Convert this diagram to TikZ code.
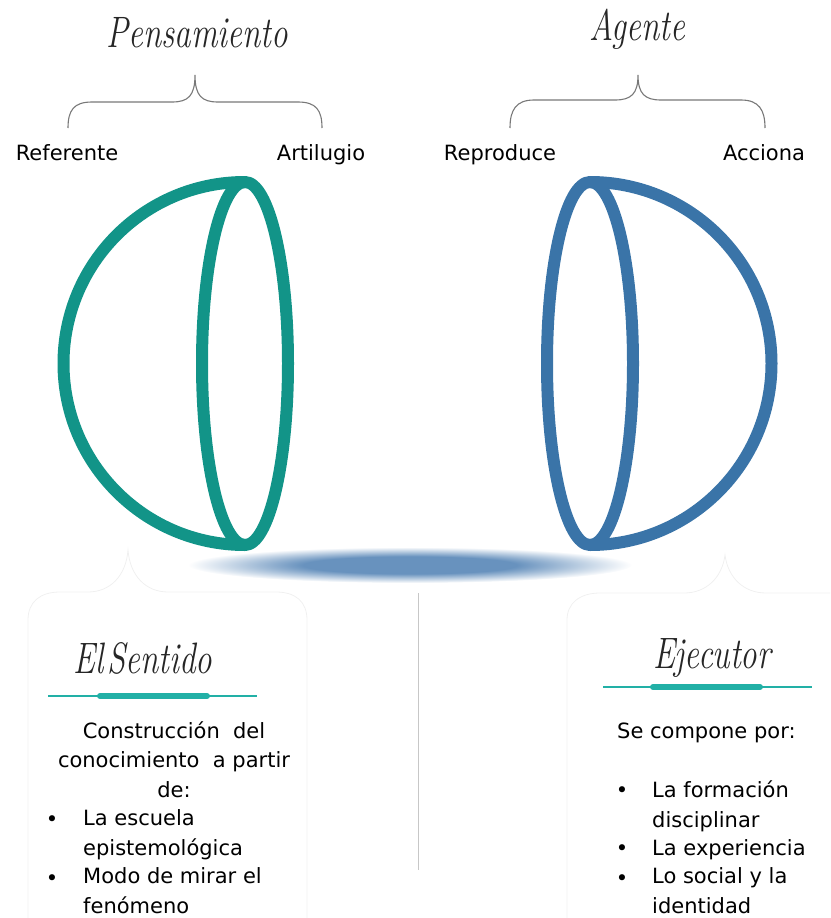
\documentclass[tikz,border=0pt]{standalone}
\usepackage{fontspec}
\usepackage{graphicx}
\setsansfont{DejaVu Sans}
\definecolor{hemiteal}{RGB}{18,148,136}
\definecolor{hemiblue}{RGB}{58,116,168}
\definecolor{barteal}{RGB}{34,176,166}
\definecolor{shadowblue}{RGB}{104,146,190}
\definecolor{bracegray}{RGB}{120,120,120}
\pgfdeclareradialshading{shadowfade}{\pgfpoint{0bp}{0bp}}{color(0bp)=(shadowblue); color(12bp)=(shadowblue); color(25bp)=(white); color(50bp)=(white)}
\newcommand{\headtxt}[1]{\scalebox{0.75}[1]{\fontsize{44}{44}\selectfont\itshape #1}}

\begin{document}
\begin{tikzpicture}[x=1pt, y=-1pt,
    hemi/.style={line width=12pt, line join=round},
    brace/.style={draw=bracegray, line width=1.1pt},
    lbl/.style={font=\sffamily\fontsize{21}{21}\selectfont, anchor=base, inner sep=0pt},
    body/.style={font=\sffamily\fontsize{21}{29.3}\selectfont, anchor=base west, inner sep=0pt, align=left},
    head/.style={text=black!85, anchor=base, inner sep=0pt},
    faint/.style={draw=black!6, line width=0.8pt}]
  \useasboundingbox (0,0) rectangle (830,918);
  % Titles
  \node[head] (pens) at (197,47) {\headtxt{Pensamiento}};
  \node[head] (agen) at (637,40) {\headtxt{Agente}};
  % Braces
  \draw[brace] (68,128) .. controls (68,110) and (74,102) .. (92,102) -- (172,102)
    .. controls (188,102) and (195,96) .. (195,75)
    .. controls (195,96) and (202,102) .. (218,102) -- (298,102)
    .. controls (316,102) and (322,110) .. (322,128);
  \draw[brace] (510,128) .. controls (510,110) and (516,100) .. (534,100) -- (615,100)
    .. controls (631,100) and (638,94) .. (638,75)
    .. controls (638,94) and (645,100) .. (661,100) -- (741,100)
    .. controls (759,100) and (765,110) .. (765,128);
  % Labels
  \node[lbl] (refe) at (67,160)  {Referente};
  \node[lbl] (arti) at (321,160) {Artilugio};
  \node[lbl] (repr) at (500,160) {Reproduce};
  \node[lbl] (acci) at (764,160) {Acciona};
  % Shadow
  \shade[shading=shadowfade] (410,565) ellipse [x radius=222pt, y radius=18pt];
  % Hemispheres
  \draw[hemi, hemiteal] (245,182) arc[start angle=90, end angle=270, radius=181.5pt];
  \draw[hemi, hemiteal] (245,363.5) ellipse [x radius=43pt, y radius=181.5pt];
  \draw[hemi, hemiblue] (590,182) arc[start angle=90, end angle=-90, radius=181.5pt];
  \draw[hemi, hemiblue] (590,363.5) ellipse [x radius=43pt, y radius=181.5pt];
  % Faint panels
  \draw[faint] (28,918) -- (28,620) .. controls (28,602) and (40,592) .. (60,592) -- (88,592)
    .. controls (110,592) and (126,576) .. (128,550)
    .. controls (130,576) and (146,592) .. (168,592) -- (276,592)
    .. controls (296,592) and (307,602) .. (307,620) -- (307,918);
  \draw[faint] (567,918) -- (567,620) .. controls (567,603) and (580,593) .. (600,593) -- (684,593)
    .. controls (706,593) and (722,578) .. (725,555)
    .. controls (728,578) and (744,593) .. (766,593) -- (830,593);
  \draw[black!22, line width=0.8pt] (418,593) -- (418,870);
  % El Sentido
  \node[head] (sent) at (143,673) {\headtxt{El\kern5pt Sentido}};
  \draw[barteal, line width=1.2pt] (48,696) -- (257,696);
  \draw[barteal, line width=6pt, line cap=round] (100,696) -- (207,696);
  \node[lbl, align=center, font=\sffamily\fontsize{21}{29.3}\selectfont] (cons) at (174,797)
    {Construcción \ del\\conocimiento \ a partir\\de:};
  \node[lbl] (bl1) at (52,826) {\textbullet};
  \node[body] (esc) at (83,855) {La escuela\\epistemológica};
  \node[lbl] (bl2) at (52,885) {\textbullet};
  \node[body] (modo) at (83,913) {Modo de mirar el\\fenómeno};
  % Ejecutor
  \node[head] (ejec) at (712,668) {\headtxt{Ejecutor}};
  \draw[barteal, line width=1.2pt] (603,687) -- (812,687);
  \draw[barteal, line width=6pt, line cap=round] (653,687) -- (760,687);
  \node[body] (comp) at (617,738) {Se compone por:};
  \node[lbl] (br1) at (622,797) {\textbullet};
  \node[body] (form) at (652,827) {La formación\\disciplinar};
  \node[lbl] (br2) at (622,855) {\textbullet};
  \node[body] (expe) at (652,855) {La experiencia};
  \node[lbl] (br3) at (622,885) {\textbullet};
  \node[body] (soci) at (652,913) {Lo social y la\\identidad};
\end{tikzpicture}
\end{document}
